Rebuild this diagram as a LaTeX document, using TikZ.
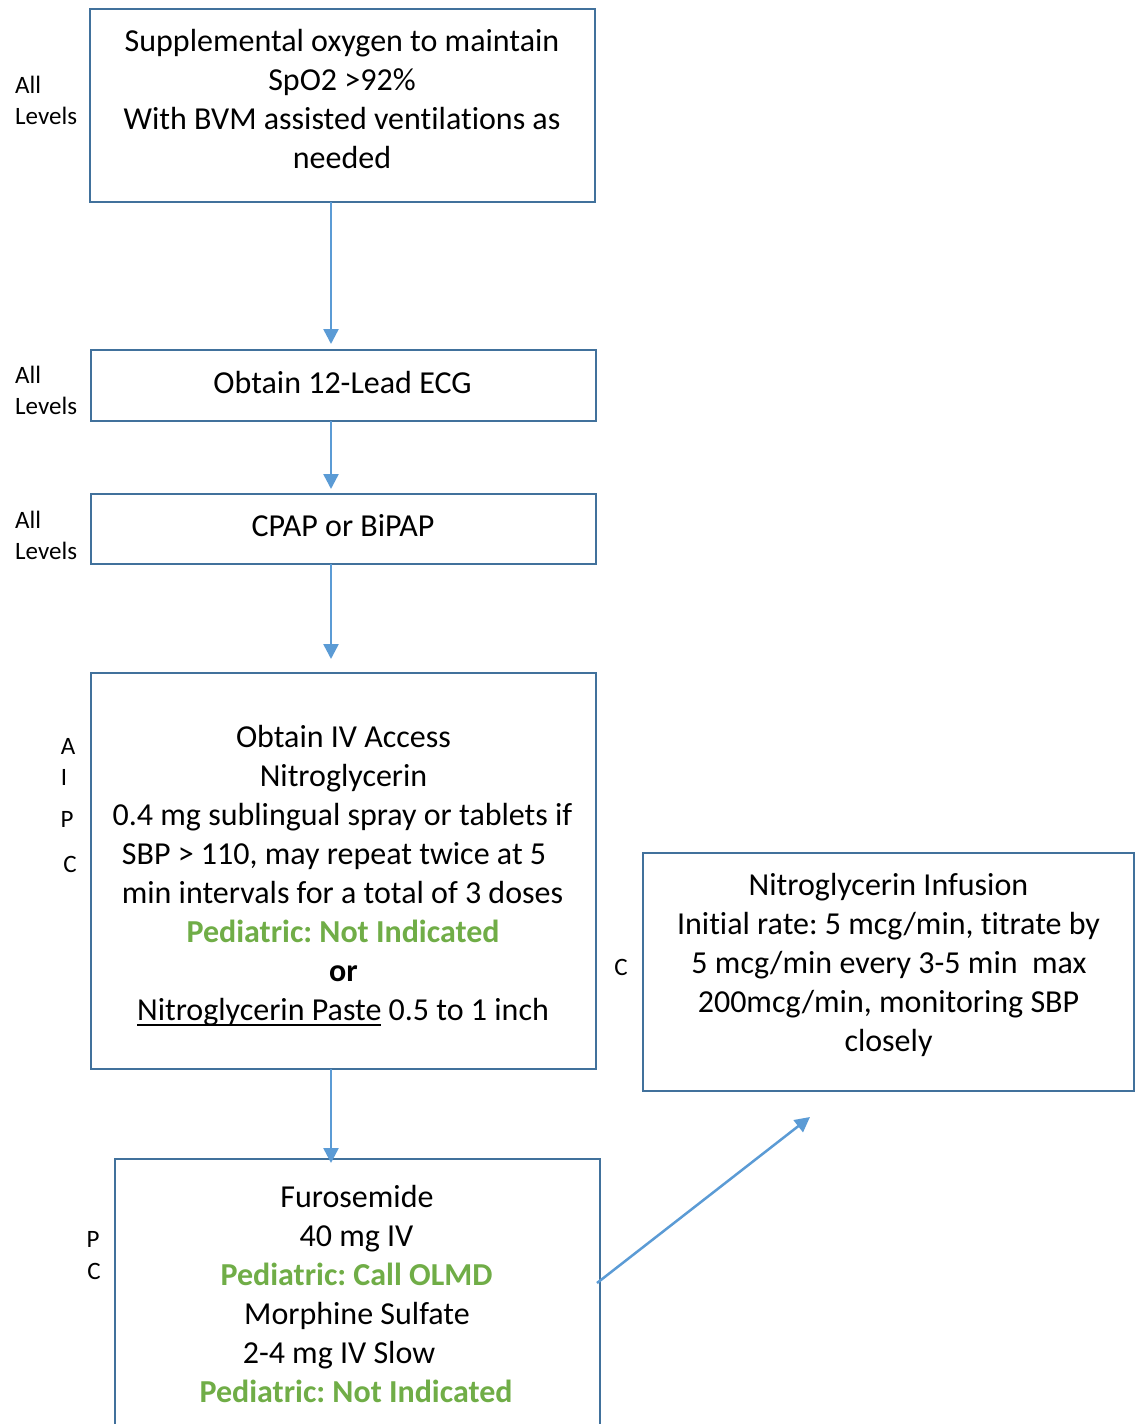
\documentclass[tikz,border=0pt]{standalone}
\usepackage{fontspec}
\setmainfont{Carlito}[Ligatures=NoCommon]
\usetikzlibrary{arrows.meta}

\definecolor{boxblue}{HTML}{41719C}
\definecolor{arrowblue}{HTML}{5B9BD5}
\definecolor{pedgreen}{HTML}{70AD47}

\frenchspacing
\newcommand\bodyfont{\fontsize{32}{39}\selectfont}
\newcommand\sidefont{\fontsize{25}{30}\selectfont}
\newcommand\pedi[1]{\textcolor{pedgreen}{\bfseries #1}}
% underline that sits just under the baseline (descenders cross it)
\newcommand\myul[1]{\leavevmode\setbox0\hbox{#1}\rlap{\rule[-5.5pt]{\wd0}{2pt}}\box0\relax}

\tikzset{
  stepbox/.style={draw=boxblue, line width=2pt, rectangle, inner sep=0pt, outer sep=0pt},
  ln/.style={anchor=base, inner sep=0pt, font=\bodyfont},
  lvl/.style={anchor=base west, inner sep=0pt, font=\sidefont, align=left},
  ltr/.style={anchor=base, inner sep=0pt, font=\sidefont},
  arr/.style={draw=arrowblue, line width=2.5pt, -{Triangle[width=15pt,length=15pt]}}
}

\begin{document}
\begin{tikzpicture}[x=1pt,y=-1pt]
\useasboundingbox (0,0) rectangle (1138,1424);

% ---- boxes ----
\node[stepbox, minimum width=505pt, minimum height=193pt] (b1) at (342.5,105.5) {};
\node[stepbox, minimum width=505pt, minimum height=71pt]  (b2) at (343.5,385.5) {};
\node[stepbox, minimum width=505pt, minimum height=70pt]  (b3) at (343.5,529) {};
\node[stepbox, minimum width=505pt, minimum height=396pt] (b4) at (343.5,871) {};
\node[stepbox, minimum width=485pt, minimum height=281pt] (b5) at (357.5,1299.5) {};
\node[stepbox, minimum width=491pt, minimum height=238pt] (b6) at (888.5,972) {};

% ---- box texts ----
\node[ln] (b1a) at (342,51.5)  {Supplemental oxygen to maintain};
\node[ln] (b1b) at (342,90.5)  {SpO2 >92\%};
\node[ln] (b1c) at (342,129.5) {With BVM assisted ventilations as};
\node[ln] (b1d) at (342,168.5) {needed};

\node[ln] (b2a) at (342.5,393.5) {Obtain 12-Lead ECG};
\node[ln] (b3a) at (343,536.5) {CPAP or BiPAP};

\node[ln] (b4a) at (343.5,747) {Obtain IV Access};
\node[ln] (b4b) at (343.5,786)  {Nitroglycerin};
\node[ln] (b4c) at (342.5,825) {0.4 mg sublingual spray or tablets if};
\node[ln] (b4d) at (334,864)   {SBP > 110, may repeat twice at 5};
\node[ln] (b4e) at (342.5,903) {min intervals for a total of 3 doses};
\node[ln] (b4f) at (343,942)   {\pedi{Pediatric: Not Indicated}};
\node[ln] (b4g) at (343.5,981) {\bfseries or};
\node[ln] (b4h) at (343,1020)  {\myul{Nitroglycerin Paste} 0.5 to 1 inch};

\node[ln] (b6a) at (888.5,895.5)  {Nitroglycerin Infusion};
\node[ln] (b6b) at (888.5,934.5)  {Initial rate: 5 mcg/min, titrate by};
\node[ln] (b6c) at (889,973.5)    {5 mcg/min every 3-5 min\ \ max};
\node[ln] (b6d) at (888.5,1012.5) {200mcg/min, monitoring SBP};
\node[ln] (b6e) at (888.5,1051.5) {closely};

\node[ln] (b5a) at (357,1207) {Furosemide};
\node[ln] (b5b) at (356.5,1246) {40 mg IV};
\node[ln] (b5c) at (356.5,1285) {\pedi{Pediatric: Call OLMD}};
\node[ln] (b5d) at (357,1324) {Morphine Sulfate};
\node[ln] (b5e) at (339,1363) {2-4 mg IV Slow};
\node[ln] (b5f) at (356,1402) {\pedi{Pediatric: Not Indicated}};

% ---- level labels ----
\node[lvl] (l1a) at (15,93.5)  {All};
\node[lvl] (l1b) at (15,124.5) {Levels};
\node[lvl] (l2a) at (15,383.5) {All};
\node[lvl] (l2b) at (15,414.5) {Levels};
\node[lvl] (l3a) at (15,528.5) {All};
\node[lvl] (l3b) at (15,559.5) {Levels};

\node[ltr] (l4a) at (68,754)  {A};
\node[ltr] (l4b) at (64,785)  {I};
\node[ltr] (l4c) at (67,827)  {P};
\node[ltr] (l4d) at (70,872)  {C};

\node[ltr] (l5a) at (93,1247) {P};
\node[ltr] (l5b) at (94,1279) {C};

\node[ltr] (l6a) at (621,975) {C};

% ---- connectors ----
\coordinate (spine) at (331,0);
\coordinate (nt) at (810,1117);
\draw[arr, shorten >=6pt]  (b1.south -| spine) -- (b2.north -| spine);
\draw[arr, shorten >=5pt]  (b2.south -| spine) -- (b3.north -| spine);
\draw[arr, shorten >=14pt] (b3.south -| spine) -- (b4.north -| spine);
\draw[arr, shorten >=-4pt] (b4.south -| spine) -- (b5.north -| spine);
\draw[arr] ([xshift=-3pt,yshift=16.5pt]b5.east) -- (nt);
\end{tikzpicture}
\end{document}
